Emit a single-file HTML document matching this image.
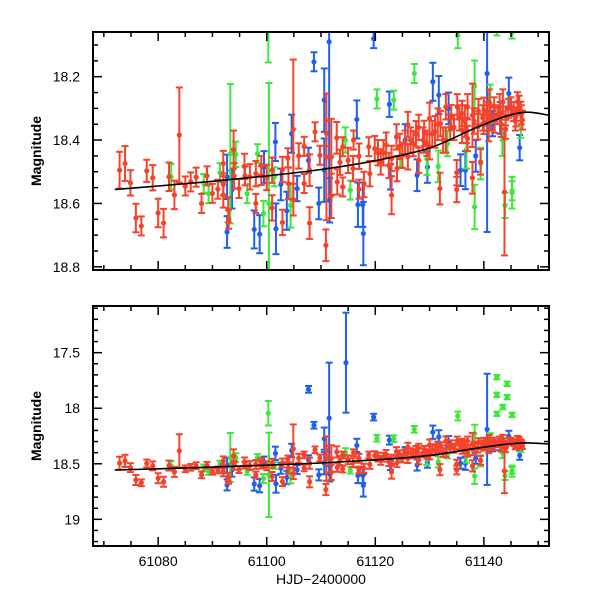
<!DOCTYPE html>
<html><head><meta charset="utf-8"><style>
html,body{margin:0;padding:0;background:#fff;}
svg{display:block;font-family:"Liberation Sans",sans-serif;}
</style></head><body>
<svg id="chart" width="600" height="600" viewBox="0 0 600 600">
<defs>
<clipPath id="clipTop"><rect x="93" y="32" width="456" height="238"/></clipPath>
<clipPath id="clipBot"><rect x="93" y="306" width="456" height="240"/></clipPath>
</defs>
<g id="top"></g>
<g id="bot"></g>
<text x="41" y="151" transform="rotate(-90 41 151)" text-anchor="middle" font-size="14" font-weight="bold">Magnitude</text>
<text x="41" y="426" transform="rotate(-90 41 426)" text-anchor="middle" font-size="14" font-weight="bold">Magnitude</text>
<text x="321" y="584" text-anchor="middle" font-size="14">HJD−2400000</text>
</svg>
<script>
// Red series
const redT=[61072.9,61073.9,61074.9,61075.9,61076.9,61077.9,61079.0,61080.0,61081.0,61082.0,61083.0,61083.9,61085.0,61086.0,61087.0,61088.0,61089.0,61090.0,61091.0,61092.0,61092.0,61092.0,61092.9,61093.0,61093.9,61094.0,61094.9,61095.9,61096.0,61096.9,61098.0,61098.0,61099.0,61099.0,61100.0,61101.0,61101.0,61102.9,61102.9,61103.9,61104.0,61104.9,61104.9,61105.9,61106.9,61106.9,61107.9,61107.9,61108.9,61109.8,61110.9,61111.0,61111.9,61111.9,61112.9,61113.0,61114.0,61114.0,61115.0,61115.9,61117.0,61117.0,61117.9,61119.0,61119.9,61121.0,61122.0,61123.0,61123.0,61123.9,61125.0,61126.0,61126.0,61127.0,61128.0,61129.0,61130.0,61130.0,61131.0,61131.9,61132.0,61133.0,61133.0,61134.0,61135.0,61135.0,61136.0,61136.0,61137.0,61137.9,61137.9,61138.9,61140.0,61140.9,61142.0,61142.9,61143.8,61144.0,61145.0,61145.9,61146.8,61147.1,61146.2,61144.0,61141.9,61140.0,61139.4,61137.0,61135.1,61124.0,61118.8,61116.0,61111.0,61128.8,61131.5,61133.8,61136.5,61139.0,61141.2,61143.2,61145.5,61127.5,61125.5,61120.5,61113.5,61121.5,61122.5,61124.5,61126.5,61128.0,61129.5,61130.5,61132.5,61134.5,61135.5,61136.8,61138.2,61139.8,61141.0,61142.5,61144.5,61145.8,61146.5,61146.9,61143.5,61140.5];
const redM=[18.495,18.474,18.535,18.646,18.671,18.497,18.519,18.63,18.662,18.516,18.573,18.384,18.545,18.532,18.517,18.6,18.513,18.568,18.555,18.54,18.474,18.573,18.62,18.65,18.43,18.513,18.553,18.483,18.513,18.516,18.506,18.6,18.48,18.512,18.518,18.495,18.614,18.493,18.66,18.456,18.537,18.366,18.588,18.45,18.42,18.537,18.662,18.495,18.374,18.448,18.732,18.453,18.453,18.576,18.393,18.532,18.421,18.548,18.464,18.49,18.451,18.555,18.54,18.506,18.427,18.469,18.416,18.574,18.458,18.39,18.448,18.351,18.453,18.411,18.464,18.379,18.421,18.332,18.374,18.553,18.348,18.295,18.4,18.329,18.503,18.556,18.316,18.369,18.295,18.322,18.519,18.358,18.306,18.364,18.337,18.295,18.564,18.366,18.295,18.327,18.309,18.337,18.279,18.324,18.295,18.351,18.469,18.395,18.295,18.49,18.421,18.4,18.379,18.40,18.35,18.36,18.34,18.31,18.33,18.35,18.31,18.38,18.41,18.44,18.47,18.44,18.48,18.42,18.40,18.36,18.41,18.38,18.40,18.36,18.33,18.37,18.34,18.33,18.28,18.32,18.30,18.34,18.29,18.32,18.28,18.31];
const redE=[0.058,0.055,0.04,0.045,0.03,0.035,0.04,0.045,0.045,0.045,0.045,0.15,0.03,0.03,0.03,0.03,0.03,0.03,0.03,0.035,0.04,0.04,0.04,0.03,0.06,0.04,0.03,0.04,0.03,0.04,0.04,0.03,0.03,0.03,0.04,0.04,0.04,0.04,0.04,0.03,0.05,0.22,0.05,0.04,0.03,0.03,0.05,0.05,0.03,0.03,0.05,0.2,0.12,0.07,0.05,0.04,0.03,0.03,0.04,0.04,0.04,0.03,0.04,0.04,0.04,0.04,0.04,0.06,0.04,0.04,0.04,0.04,0.04,0.04,0.04,0.04,0.04,0.05,0.05,0.05,0.04,0.04,0.04,0.04,0.04,0.04,0.04,0.04,0.04,0.1,0.05,0.04,0.04,0.04,0.04,0.04,0.2,0.03,0.03,0.03,0.03,0.03,0.03,0.03,0.03,0.03,0.04,0.04,0.04,0.04,0.03,0.03,0.04,0.04,0.05,0.04,0.05,0.04,0.04,0.04,0.03,0.04,0.04,0.04,0.04,0.04,0.04,0.04,0.04,0.04,0.04,0.04,0.04,0.04,0.04,0.04,0.04,0.04,0.04,0.03,0.03,0.03,0.03,0.03,0.04,0.03];
// Blue series
const blueT=[61092.7,61092.7,61093.6,61097.7,61098.7,61099.5,61101.6,61101.7,61102.6,61103.7,61104.6,61105.6,61107.7,61108.7,61109.6,61111.5,61110.6,61110.6,61111.6,61116.6,61116.8,61117.7,61117.8,61119.7,61122.6,61122.8,61127.7,61129.6,61130.6,61131.7,61135.7,61136.6,61140.6,61141.6,61144.6,61146.6,61107.7,61114.6,61133.5,61138.5,61143.0,61125.5];
const blueM=[18.516,18.69,18.556,18.682,18.697,18.485,18.406,18.68,18.54,18.623,18.38,18.553,18.464,18.153,18.6,18.09,18.274,18.495,18.59,18.335,18.604,18.604,18.695,18.08,18.287,18.516,18.511,18.485,18.216,18.258,18.495,18.495,18.19,18.348,18.253,18.424,17.83,17.59,18.30,18.45,18.33,18.40];
const blueE=[0.07,0.05,0.06,0.06,0.06,0.05,0.06,0.08,0.05,0.06,0.06,0.04,0.04,0.03,0.05,0.5,0.1,0.1,0.07,0.06,0.07,0.07,0.1,0.03,0.04,0.04,0.05,0.05,0.06,0.06,0.05,0.06,0.5,0.04,0.05,0.04,0.03,0.45,0.05,0.05,0.05,0.05];
// Green series
const greenT=[61082.4,61088.4,61089.3,61091.4,61093.3,61094.3,61096.4,61098.3,61099.4,61100.3,61100.4,61104.4,61101.4,61115.4,61114.5,61120.3,61123.4,61127.2,61131.6,61135.2,61138.3,61138.3,61139.4,61143.9,61145.2,61141.2,61143.4,61146.8,61133.3,61124.6,61142.4,61144.3,61142.4,61144.3,61143.5,61142.4,61145.2,61145.2,61136.8,61129.5];
const greenM=[18.516,18.537,18.569,18.503,18.443,18.445,18.569,18.443,18.632,18.045,18.6,18.606,18.516,18.558,18.4,18.27,18.274,18.19,18.483,18.07,18.229,18.611,18.474,18.606,18.566,18.285,18.4,18.353,18.411,18.453,17.72,17.78,17.88,17.9,17.99,18.05,18.06,18.56,18.43,18.46];
const greenE=[0.04,0.03,0.03,0.03,0.22,0.04,0.03,0.03,0.04,0.11,0.38,0.07,0.03,0.03,0.04,0.03,0.03,0.03,0.05,0.04,0.08,0.07,0.05,0.04,0.05,0.06,0.05,0.04,0.04,0.03,0.02,0.02,0.02,0.02,0.02,0.02,0.02,0.03,0.06,0.05];
// Model curve
const curveT=[61072,61080,61090,61100,61110,61120,61130,61138,61144,61148,61152];
const curveM=[18.556,18.545,18.53,18.513,18.493,18.465,18.425,18.365,18.325,18.312,18.322];
// Ticks
const xMajor=[61080,61100,61120,61140];
const xMajorLabels=["61080","61100","61120","61140"];
const topYLabels=[18.2,18.4,18.6,18.8];
const botYLabels=[17.5,18,18.5,19];

const NS="http://www.w3.org/2000/svg";
const X0=93,X1=549,T0=61068,T1=61152;
function xs(t){return X0+(t-T0)/(T1-T0)*(X1-X0);}
const panels=[
 {g:document.getElementById('top'),clip:'clipTop',y0:32,y1:270,m0:18.059,m1:18.81,minor:0.05,major:0.2,labels:topYLabels,xl:false,name:'top'},
 {g:document.getElementById('bot'),clip:'clipBot',y0:306,y1:546,m0:17.08,m1:19.24,minor:0.1,major:0.5,labels:botYLabels,xl:true,name:'bottom'}
];
function mk(tag,attrs,parent){const e=document.createElementNS(NS,tag);for(const k in attrs)e.setAttribute(k,attrs[k]);parent.appendChild(e);return e;}
panels.forEach(p=>{
 const ys=m=>p.y0+(m-p.m0)/(p.m1-p.m0)*(p.y1-p.y0);
 const data=mk('g',{'clip-path':'url(#'+p.clip+')'},p.g);
 
 
 function series(T,M,E,col,nm){
  const sg=mk('g',{},data);
  
  
  for(let i=0;i<T.length;i++){
   const x=xs(T[i]),y=ys(M[i]),ya=ys(M[i]-E[i]),yb=ys(M[i]+E[i]);
   const pt=mk('g',{stroke:col,'stroke-width':2,fill:col},sg);
   
   
   mk('line',{x1:x,x2:x,y1:ya,y2:yb},pt);
   mk('line',{x1:x-3.5,x2:x+3.5,y1:ya,y2:ya},pt);
   mk('line',{x1:x-3.5,x2:x+3.5,y1:yb,y2:yb},pt);
   mk('circle',{cx:x,cy:y,r:2.6,stroke:'none'},pt);
  }
 }
 series(blueT,blueM,blueE,'#1f5ff0','blue');
 series(greenT,greenM,greenE,'#3de83d','green');
 series(redT,redM,redE,'#f5432b','red');
 // Catmull-Rom smooth curve
 const P=curveT.map((t,i)=>[xs(t),ys(curveM[i])]);
 let d='M'+P[0][0].toFixed(1)+','+P[0][1].toFixed(1);
 for(let i=0;i<P.length-1;i++){
  const p0=P[Math.max(0,i-1)],p1=P[i],p2=P[i+1],p3=P[Math.min(P.length-1,i+2)];
  const c1=[p1[0]+(p2[0]-p0[0])/6,p1[1]+(p2[1]-p0[1])/6];
  const c2=[p2[0]-(p3[0]-p1[0])/6,p2[1]-(p3[1]-p1[1])/6];
  d+='C'+c1[0].toFixed(1)+','+c1[1].toFixed(1)+' '+c2[0].toFixed(1)+','+c2[1].toFixed(1)+' '+p2[0].toFixed(1)+','+p2[1].toFixed(1);
 }
 const c=mk('path',{d:d,fill:'none',stroke:'#000','stroke-width':1.6},data);
 
 
 const ax=mk('g',{stroke:'#000','stroke-width':1.5},p.g);
 
 
 mk('rect',{x:X0,y:p.y0,width:X1-X0,height:p.y1-p.y0,fill:'none','stroke-width':2},ax);
 for(let t=61070;t<=T1;t+=5){
  const x=xs(t),maj=xMajor.includes(t),L=maj?9:5;
  mk('line',{x1:x,x2:x,y1:p.y1,y2:p.y1-L},ax);
  mk('line',{x1:x,x2:x,y1:p.y0,y2:p.y0+L},ax);
 }
 const n0=Math.ceil(p.m0/p.minor-1e-6),n1=Math.floor(p.m1/p.minor+1e-6);
 for(let n=n0;n<=n1;n++){
  const m=n*p.minor,y=ys(m);
  const maj=Math.abs(m/p.major-Math.round(m/p.major))<1e-6,L=maj?9:5;
  mk('line',{x1:X0,x2:X0+L,y1:y,y2:y},ax);
  mk('line',{x1:X1,x2:X1-L,y1:y,y2:y},ax);
 }
 p.labels.forEach(m=>{
  const tx=mk('text',{x:80,y:ys(m)+5,'text-anchor':'end','font-size':14},p.g);
  tx.textContent=String(m);
  
  
 });
 if(p.xl){xMajor.forEach((t,i)=>{
  const tx=mk('text',{x:xs(t),y:566,'text-anchor':'middle','font-size':14},p.g);
  tx.textContent=xMajorLabels[i];
  
  
 });}
});
</script>
</body></html>
